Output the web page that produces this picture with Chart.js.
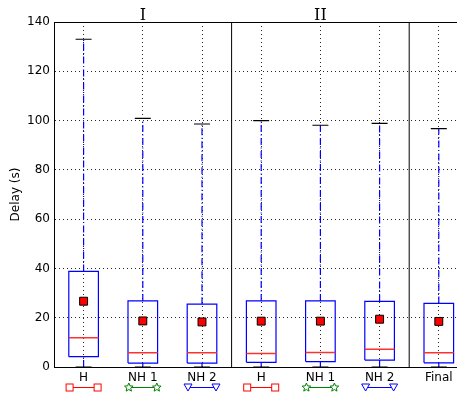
<!DOCTYPE html>
<html><head><meta charset="utf-8">
<script src="https://cdn.jsdelivr.net/npm/chart.js@4/dist/chart.umd.min.js"></script>
<style>html,body{margin:0;padding:0;background:#fff;overflow:hidden;width:457px;height:394px}
#wrap{width:475px;height:394px}</style>
</head><body><div id="wrap"><canvas id="c" width="475" height="394"></canvas></div>
<script>
const categories = ['H','NH 1','NH 2','H','NH 1','NH 2','Final'];
const groupLabels = ['I','II'];
const groupCenters = [2, 5];
const separators = [3.5, 6.5];
const whiskerLow = [0, 0, 0, 0, 0, 0, 0];
const q1 = [4.2, 1.6, 1.6, 1.9, 2.2, 2.8, 1.7];
const medians = [11.9, 5.8, 5.8, 5.5, 5.9, 7.2, 5.8];
const q3 = [38.8, 26.8, 25.5, 26.8, 26.8, 26.6, 25.8];
const whiskerHigh = [133.0, 100.9, 98.6, 100.0, 98.1, 98.9, 96.7];
const means = [26.7, 18.7, 18.3, 18.6, 18.6, 19.4, 18.5];
const iconKinds = ['square','star','triangle','square','star','triangle',null];
const iconColors = ['#ff0000','#008000','#0000ff','#ff0000','#008000','#0000ff',null];

const BW = 0.25, CW = 0.135;
const GAP = i => ({x: i, y: null});
const boxData = [], medData = [], whiskData = [], capData = [], sepData = [];
categories.forEach((c, k) => {
  const i = k + 1;
  boxData.push({x:i-BW,y:q1[k]},{x:i+BW,y:q1[k]},{x:i+BW,y:q3[k]},{x:i-BW,y:q3[k]},{x:i-BW,y:q1[k]},GAP(i));
  medData.push({x:i-BW,y:medians[k]},{x:i+BW,y:medians[k]},GAP(i));
  whiskData.push({x:i,y:q3[k]},{x:i,y:whiskerHigh[k]},GAP(i),{x:i,y:whiskerLow[k]},{x:i,y:q1[k]},GAP(i));
  capData.push({x:i-CW,y:whiskerHigh[k]},{x:i+CW,y:whiskerHigh[k]},GAP(i),{x:i-CW,y:whiskerLow[k]},{x:i+CW,y:whiskerLow[k]},GAP(i));
});
separators.forEach(s => sepData.push({x:s,y:0},{x:s,y:140},GAP(s)));
const meanData = means.map((m, k) => ({x:k+1, y:m}));

const lineDs = (data, color, width, dash, order) => ({
  data, showLine:true, borderColor:color, borderWidth:width, borderDash:dash||[],
  pointRadius:0, pointHoverRadius:0, fill:false, tension:0, spanGaps:false, order
});

function star(ctx, x, y, r) {
  ctx.beginPath();
  for (let j = 0; j < 10; j++) {
    const rr = j % 2 ? r * 0.45 : r;
    const a = -Math.PI/2 + j * Math.PI / 5;
    const px = x + rr*Math.cos(a), py = y + rr*Math.sin(a);
    j ? ctx.lineTo(px, py) : ctx.moveTo(px, py);
  }
  ctx.closePath();
}

const extras = {
  id: 'extras',
  afterDraw(chart) {
    const ctx = chart.ctx, a = chart.chartArea;
    const xs = chart.scales.x;
    ctx.save();
    ctx.strokeStyle = '#000'; ctx.lineWidth = 1;
    ctx.beginPath(); ctx.moveTo(a.left, a.top + 0.5); ctx.lineTo(a.right, a.top + 0.5); ctx.stroke();
    ctx.fillStyle = '#000';
    ctx.font = '16px "DejaVu Serif"';
    ctx.textAlign = 'center'; ctx.textBaseline = 'alphabetic';
    groupLabels.forEach((g, j) => ctx.fillText(g, xs.getPixelForValue(groupCenters[j]), a.top - 2));
    // icons below labels
    const iy = 387, half = 14;
    iconKinds.forEach((kind, k) => {
      if (!kind) return;
      const cx = xs.getPixelForValue(k + 1);
      const col = iconColors[k];
      ctx.strokeStyle = col; ctx.lineWidth = 1;
      ctx.beginPath(); ctx.moveTo(cx - half, iy + 0.5); ctx.lineTo(cx + half, iy + 0.5); ctx.stroke();
      [cx - half, cx + half].forEach(px => {
        ctx.fillStyle = '#fff';
        if (kind === 'square') {
          ctx.fillRect(px - 3.5, iy - 3, 7, 7);
          ctx.strokeRect(px - 3.5, iy - 3, 7, 7);
        } else if (kind === 'star') {
          star(ctx, px, iy + 0.5, 4.5);
          ctx.fill(); ctx.stroke();
        } else {
          ctx.beginPath();
          ctx.moveTo(px - 4, iy - 3); ctx.lineTo(px + 4, iy - 3); ctx.lineTo(px, iy + 4);
          ctx.closePath(); ctx.fill(); ctx.stroke();
        }
      });
    });
    ctx.restore();
  }
};

new Chart(document.getElementById('c'), {
  type: 'scatter',
  data: { datasets: [
    Object.assign({data: meanData, showLine:false, pointStyle:'rect', pointRadius:5.6, pointHoverRadius:5.6,
      backgroundColor:'#ff0000', borderColor:'#000', borderWidth:1, order:0}),
    lineDs(medData, '#ff3030', 1.5, [], 1),
    lineDs(boxData, '#0000ff', 1.2, [], 2),
    lineDs(capData, '#000', 1.2, [], 2),
    lineDs(whiskData, '#0000ff', 1.2, [7,2.5,1,2.5], 3),
    lineDs(sepData, '#000', 1, [], 4)
  ]},
  options: {
    responsive:false, animation:false, events:[],
    layout:{padding:{left:0, top:22, right:3, bottom:0}},
    plugins:{legend:{display:false}, tooltip:{enabled:false}},
    scales:{
      x:{type:'linear', min:0.5, max:7.5,
        afterBuildTicks(s){ s.ticks = categories.map((c,k)=>({value:k+1})); },
        afterFit(s){ s.height = 27; s.paddingLeft = 0; s.paddingRight = 0; },
        ticks:{callback:(v)=>categories[Math.round(v)-1], color:'#000', font:{family:'DejaVu Sans', size:12}, padding:4, maxRotation:0, autoSkip:false},
        grid:{color:'rgba(0,0,0,0.85)', lineWidth:1, drawTicks:false},
        border:{display:true, color:'#000', width:1, dash:[1,3]}
      },
      y:{min:0, max:140,
        afterBuildTicks(s){ s.ticks = [0,20,40,60,80,100,120,140].map(v=>({value:v})); },
        afterFit(s){ s.width = 54; s.paddingTop = 0; s.paddingBottom = 0; },
        ticks:{color:'#000', font:{family:'DejaVu Sans', size:12}, padding:4},
        title:{display:true, text:'Delay (s)', color:'#000', font:{family:'DejaVu Sans', size:12}, padding:{top:9, bottom:0}},
        grid:{color:'rgba(0,0,0,0.85)', lineWidth:1, drawTicks:false},
        border:{display:true, color:'#000', width:1, dash:[1,3]}
      }
    }
  },
  plugins:[extras]
});
</script></body></html>
